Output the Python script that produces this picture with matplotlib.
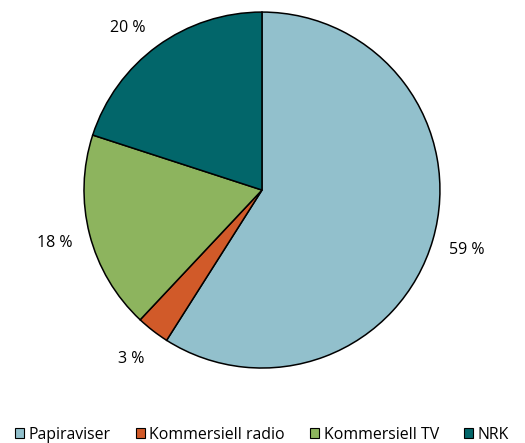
import matplotlib
matplotlib.use("Agg")
import matplotlib.pyplot as plt

categories = ["Papiraviser", "Kommersiell radio", "Kommersiell TV", "NRK"]
shares = [59, 3, 18, 20]
pct_labels = ["59 %", "3 %", "18 %", "20 %"]
colors = ["#92C0CC", "#D15A29", "#8DB45E", "#02666A"]

plt.rcParams["font.family"] = ["Open Sans", "DejaVu Sans"]

fig = plt.figure(figsize=(5.25, 4.43), dpi=100)
ax = fig.add_axes([0.160, 0.169, 0.678, 0.804])

wedges, texts = ax.pie(
    shares,
    labels=pct_labels,
    colors=colors,
    startangle=90,
    counterclock=False,
    labeldistance=1.2,
    wedgeprops=dict(edgecolor="black", linewidth=1.1),
    textprops=dict(fontsize=11.5, color="black"),
)
for t in texts:
    t.set_ha("center")
    t.set_va("center")
# NRK label sits a bit lower in the original
x, y = texts[3].get_position()
texts[3].set_position((x * 1.07, y * 0.94))

ax.set_xlim(-1, 1)
ax.set_ylim(-1, 1)
ax.set_aspect("equal")

leg = fig.legend(
    wedges,
    categories,
    loc="center left",
    bbox_to_anchor=(15 / 525, 0.019),
    ncol=4,
    frameon=False,
    fontsize=11.4,
    borderpad=0,
    borderaxespad=0,
    handlelength=0.55,
    handleheight=0.55,
    handletextpad=0.3,
    columnspacing=1.6,
)
for h in leg.legend_handles:
    h.set_linewidth(0.8)

fig.savefig("out.png", dpi=100)
